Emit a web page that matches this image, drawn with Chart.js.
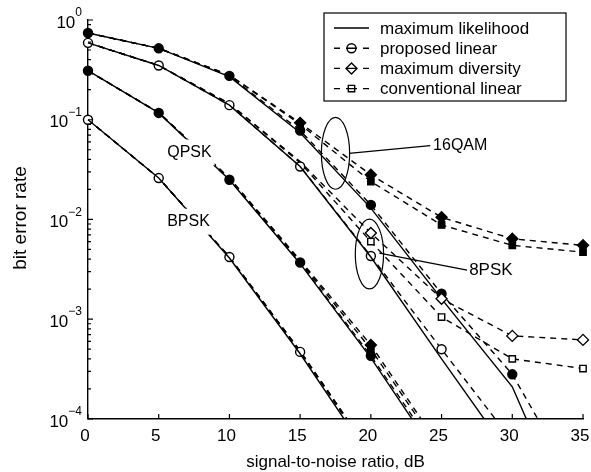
<!DOCTYPE html>
<html>
<head>
<meta charset="utf-8">
<script src="https://cdn.jsdelivr.net/npm/chart.js@4.4.1/dist/chart.umd.min.js"></script>
<style>
  html, body { margin: 0; padding: 0; background: #fff; }
  #wrap { width: 591px; height: 472px; }
</style>
</head>
<body>
<div id="wrap"><canvas id="berChart"></canvas></div>
<script>
// SNR points (dB) and axis ticks
const snr = [0, 5, 10, 15, 20, 25, 30, 35];
const yExponents = [0, -1, -2, -3, -4];
const seriesNames = ['maximum likelihood', 'proposed linear', 'maximum diversity', 'conventional linear'];

// BPSK
const bpskML   = [0.1, 0.026, 0.0041, 0.00045, 0.00004];
const bpskProp = [0.1, 0.026, 0.0042, 0.00047, 0.000043];
const bpskDiv  = [0.1, 0.026, 0.0042, 0.00048, 0.000045];
const bpskConv = [0.1, 0.026, 0.0042, 0.00048, 0.000045];

// QPSK
const qpskML   = [0.31, 0.117, 0.025, 0.0036, 0.00041, 0.000036];
const qpskProp = [0.31, 0.117, 0.025, 0.0037, 0.00043, 0.00004];
const qpskDiv  = [0.31, 0.118, 0.026, 0.0039, 0.00055, 0.00005];
const qpskConv = [0.31, 0.118, 0.026, 0.0038, 0.0005, 0.000046];

// 8PSK
const psk8ML   = [0.59, 0.35, 0.14, 0.034, 0.0042, 0.0004, 0.00004];
const psk8Prop = [0.59, 0.35, 0.14, 0.034, 0.0043, 0.0005, 0.00006];
const psk8Div  = [0.59, 0.35, 0.145, 0.038, 0.0073, 0.0016, 0.00068, 0.00062];
const psk8Conv = [0.59, 0.35, 0.145, 0.037, 0.006, 0.00105, 0.0004, 0.00032];

// 16QAM
const qam16ML   = [0.74, 0.52, 0.27, 0.074, 0.013, 0.0016, 0.00021, 0.000005];
const qam16Prop = [0.74, 0.52, 0.275, 0.078, 0.014, 0.0018, 0.00028, 0.000016];
const qam16Div  = [0.74, 0.52, 0.28, 0.093, 0.028, 0.0105, 0.0064, 0.0055];
const qam16Conv = [0.74, 0.52, 0.28, 0.09, 0.024, 0.0088, 0.0055, 0.0047];

const FONT = '"Liberation Sans", Arial, Helvetica, sans-serif';

function pts(vals) {
  return vals.map((v, i) => ({ x: snr[i], y: v }));
}

// one modulation -> 4 datasets
function group(name, ml, prop, div, conv, fill, markFrom) {
  const base = { borderColor: '#000', pointBorderColor: '#000', pointBorderWidth: 1.4,
                 fill: false, tension: 0, clip: { left: 8, top: 8, right: 8, bottom: 0 } };
  const rad = r => (c => c.dataIndex >= markFrom ? r : 0);
  return [
    Object.assign({}, base, { label: name + ' ' + seriesNames[0], data: pts(ml), borderWidth: 1.4, pointRadius: 0 }),
    Object.assign({}, base, { label: name + ' ' + seriesNames[1], data: pts(prop), borderWidth: 1.4, borderDash: [6, 5],
      pointStyle: 'circle', pointRadius: 4.5, pointBackgroundColor: fill }),
    Object.assign({}, base, { label: name + ' ' + seriesNames[2], data: pts(div), borderWidth: 1.4, borderDash: [6, 5],
      pointStyle: 'rectRot', pointRadius: rad(5.5), pointBackgroundColor: fill }),
    Object.assign({}, base, { label: name + ' ' + seriesNames[3], data: pts(conv), borderWidth: 1.4, borderDash: [6, 5],
      pointStyle: 'rect', pointRadius: rad(4.5), pointBackgroundColor: fill })
  ];
}

const datasets = [].concat(
  group('BPSK', bpskML, bpskProp, bpskDiv, bpskConv, '#fff', 99),
  group('QPSK', qpskML, qpskProp, qpskDiv, qpskConv, '#000', 4),
  group('8PSK', psk8ML, psk8Prop, psk8Div, psk8Conv, '#fff', 4),
  group('16QAM', qam16ML, qam16Prop, qam16Div, qam16Conv, '#000', 3)
);

// annotations in data units
const ellipses = [
  { x: 17.5, y: 0.046, rx: 1.0, ry: 0.36 },
  { x: 19.9, y: 0.0045, rx: 1.0, ry: 0.35 }
];
const leaders = [
  { x1: 18.45, y1: 0.046, x2: 24.2, y2: 0.055 },
  { x1: 20.6, y1: 0.0046, x2: 26.8, y2: 0.0031 }
];
const textLabels = [
  { text: '16QAM', x: 24.4, y: 0.055, size: 16, backdrop: false },
  { text: '8PSK', x: 26.95, y: 0.0031, size: 17, backdrop: false },
  { text: 'QPSK', x: 5.6, y: 0.047, size: 16, backdrop: true },
  { text: 'BPSK', x: 5.6, y: 0.0095, size: 16, backdrop: true }
];

const decorPlugin = {
  id: 'decor',
  afterDatasetsDraw(chart) {
    const ctx = chart.ctx, xs = chart.scales.x, ys = chart.scales.y;
    ctx.save();
    ctx.strokeStyle = '#000';
    ctx.lineWidth = 1.2;
    ellipses.forEach(e => {
      const cx = xs.getPixelForValue(e.x), cy = ys.getPixelForValue(e.y);
      const rx = xs.getPixelForValue(e.x + e.rx) - cx;
      const ry = cy - ys.getPixelForValue(e.y * Math.pow(10, e.ry));
      ctx.beginPath();
      ctx.ellipse(cx, cy, rx, ry, 0, 0, Math.PI * 2);
      ctx.stroke();
    });
    leaders.forEach(l => {
      ctx.beginPath();
      ctx.moveTo(xs.getPixelForValue(l.x1), ys.getPixelForValue(l.y1));
      ctx.lineTo(xs.getPixelForValue(l.x2), ys.getPixelForValue(l.y2));
      ctx.stroke();
    });
    ctx.textBaseline = 'middle';
    ctx.textAlign = 'left';
    textLabels.forEach(t => {
      ctx.font = t.size + 'px ' + FONT;
      const px = xs.getPixelForValue(t.x), py = ys.getPixelForValue(t.y);
      const w = ctx.measureText(t.text).width;
      if (t.backdrop) {
        ctx.fillStyle = '#fff';
        ctx.fillRect(px - 3, py - 13, w + 6, 26);
      }
      ctx.fillStyle = '#000';
      ctx.fillText(t.text, px, py);
    });

    // inward tick marks
    const a = chart.chartArea;
    ctx.lineWidth = 1.2;
    ctx.beginPath();
    snr.forEach(v => {
      const px = xs.getPixelForValue(v);
      ctx.moveTo(px, a.bottom);
      ctx.lineTo(px, a.bottom - 5);
    });
    yExponents.forEach(e => {
      const py = ys.getPixelForValue(Math.pow(10, e));
      ctx.moveTo(a.left, py);
      ctx.lineTo(a.left + 5, py);
      if (e < 0) {
        for (let m = 2; m <= 9; m++) {
          const pm = ys.getPixelForValue(m * Math.pow(10, e));
          ctx.moveTo(a.left, pm);
          ctx.lineTo(a.left + 3, pm);
        }
      }
    });
    ctx.stroke();

    // y tick labels 10^k
    yExponents.forEach(e => {
      const py = ys.getPixelForValue(Math.pow(10, e));
      const sup = e === 0 ? '0' : '\u2212' + (-e);
      ctx.font = '12px ' + FONT;
      const ws = ctx.measureText(sup).width;
      ctx.textAlign = 'left';
      ctx.fillText(sup, 82 - ws, py - 7);
      ctx.font = '17px ' + FONT;
      ctx.textAlign = 'right';
      ctx.fillText('10', 82 - ws, py + 3);
    });

    // y axis title
    ctx.save();
    ctx.translate(21, 218);
    ctx.rotate(-Math.PI / 2);
    ctx.textAlign = 'center';
    ctx.font = '19px ' + FONT;
    ctx.fillText('bit error rate', 0, 0);
    ctx.restore();

    // legend box
    const bx = 324, by = 13, bw = 242, bh = 88;
    ctx.fillStyle = '#fff';
    ctx.fillRect(bx, by, bw, bh);
    ctx.strokeStyle = '#000';
    ctx.lineWidth = 1.2;
    ctx.strokeRect(bx, by, bw, bh);
    const styles = [null, 'circle', 'rectRot', 'rect'];
    seriesNames.forEach((name, i) => {
      const y = 28 + i * 20.2;
      ctx.lineWidth = 1.4;
      ctx.beginPath();
      if (i === 0) {
        ctx.moveTo(334, y); ctx.lineTo(369, y);
      } else {
        ctx.moveTo(334, y); ctx.lineTo(340, y);
        ctx.moveTo(346, y); ctx.lineTo(357, y);
        ctx.moveTo(363, y); ctx.lineTo(369, y);
      }
      ctx.stroke();
      if (styles[i]) {
        ctx.fillStyle = 'rgba(0,0,0,0)';
        Chart.helpers.drawPoint(ctx, { pointStyle: styles[i], radius: i === 2 ? 5.5 : 4.5, borderWidth: 1.2, rotation: 0 }, 351.5, y);
      }
      ctx.fillStyle = '#000';
      ctx.font = '17px ' + FONT;
      ctx.textAlign = 'left';
      ctx.textBaseline = 'middle';
      ctx.fillText(name, 380, y + 1);
    });
    ctx.restore();
  }
};

new Chart(document.getElementById('berChart'), {
  type: 'line',
  data: { datasets: datasets },
  options: {
    responsive: true,
    maintainAspectRatio: false,
    animation: false,
    events: [],
    layout: { padding: { left: 88, right: 0, top: 20, bottom: 0 } },
    plugins: { legend: { display: false }, tooltip: { enabled: false } },
    scales: {
      x: {
        type: 'linear', min: 0, max: 35,
        afterFit: s => { s.paddingRight = 8; },
        ticks: { stepSize: 5, color: '#000', font: { size: 17, family: FONT }, padding: 7, maxRotation: 0, labelOffset: -3 },
        grid: { display: false, drawTicks: false },
        border: { display: true, color: '#000', width: 1.4 },
        title: { display: true, text: 'signal-to-noise ratio, dB', color: '#000',
                 font: { size: 17, family: FONT, lineHeight: 1.1 }, padding: { top: 0, bottom: 0 } }
      },
      y: {
        type: 'logarithmic', min: 0.0001, max: 1,
        ticks: { display: false },
        grid: { display: false, drawTicks: false },
        border: { display: true, color: '#000', width: 1.4 }
      }
    }
  },
  plugins: [decorPlugin]
});
</script>
</body>
</html>
